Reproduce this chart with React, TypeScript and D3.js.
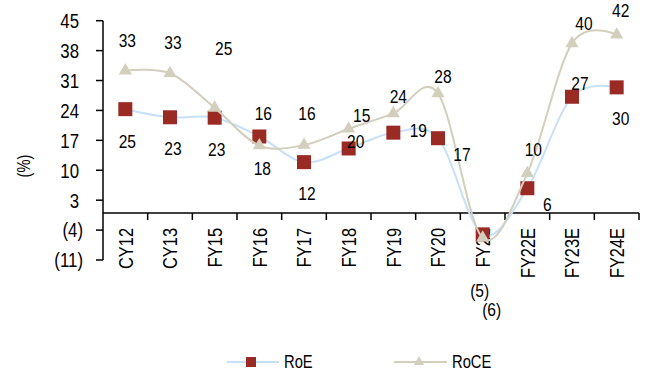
import React, { useRef, useEffect } from "react";
import * as d3 from "d3";

const categories = ["CY12", "CY13", "FY15", "FY16", "FY17", "FY18", "FY19", "FY20", "FY21", "FY22E", "FY23E", "FY24E"];
const roeValues = [24.3, 22.4, 22.3, 17.9, 11.9, 15.1, 18.8, 17.5, -5.0, 5.8, 27.2, 29.4];
const roceValues = [33.3, 32.7, 24.6, 15.8, 15.9, 19.7, 23.3, 28.0, -5.8, 9.3, 39.7, 41.7];
const roeLabels = ["25", "23", "23", "18", "12", "20", "19", "17", "(5)", "6", "27", "30"];
const roceLabels = ["33", "33", "25", "16", "16", "15", "24", "28", "(6)", "10", "40", "42"];
const yTicks = [-11, -4, 3, 10, 17, 24, 31, 38, 45];

// hand placed data labels (dx, dy from the marker), as in the source chart
const roeLabelShift = [[2, 32], [3, 31], [2, 31], [3, 32], [3, 31], [7, -7], [25, -3], [24, 16], [-3, 56], [20, 16], [8, -14], [4, 31]];
const roceLabelShift = [[2, -31], [3, -31], [9, -60], [4, -32], [3, -32], [13, -14], [5, -17], [5, -17], [9, 71], [6, -24], [12, -20], [4, -25]];

const FONT = "'Liberation Sans', Arial, sans-serif";
const NARROW = 0.82; // squeeze Liberation Sans to look like Arial Narrow
const RED = "#992b24";
const BLUE = "#c6e0f7";
const BEIGE = "#d3cfbd";

const fmt = (v: number) => (v < 0 ? `(${Math.abs(v)})` : `${v}`);

const App = () => {
  const svgRef = useRef<SVGSVGElement>(null);

  useEffect(() => {
    const svg = d3.select(svgRef.current);
    svg.selectAll("*").remove();

    const width = 648;
    const height = 376;
    const margin = { top: 20.7, right: 9, bottom: 116, left: 103 };

    const x = d3.scaleBand().domain(categories).range([margin.left, width - margin.right]);
    const y = d3.scaleLinear().domain([-11, 45]).range([height - margin.bottom, margin.top]);
    const cx = (i: number) => (x(categories[i]) as number) + x.bandwidth() / 2;

    const root = svg.append("g").attr("font-family", FONT).attr("fill", "#000");

    const narrowText = (parent: any, px: number, py: number, str: string, size: number, anchor = "middle", rotate = 0) => {
      parent
        .append("text")
        .attr("transform", `translate(${px},${py}) rotate(${rotate}) scale(${NARROW},1)`)
        .attr("text-anchor", anchor)
        .attr("dy", "0.36em")
        .attr("font-size", size)
        .text(str);
    };

    // y axis
    const yAxis = root.append("g");
    yAxis
      .append("line")
      .attr("x1", margin.left)
      .attr("x2", margin.left)
      .attr("y1", y(45))
      .attr("y2", y(-11))
      .attr("stroke", "#000")
      .attr("stroke-width", 1.5);
    yTicks.forEach((t) => {
      yAxis
        .append("line")
        .attr("x1", margin.left - 7)
        .attr("x2", margin.left)
        .attr("y1", y(t))
        .attr("y2", y(t))
        .attr("stroke", "#000")
        .attr("stroke-width", 1.5);
      narrowText(yAxis, t < 0 ? 83 : 79, y(t), fmt(t), 20.5, "end");
    });

    narrowText(root, 24, 166, "(%)", 18, "middle", -90);

    // x axis at zero
    const xAxis = root.append("g");
    xAxis
      .append("line")
      .attr("x1", margin.left)
      .attr("x2", width - margin.right)
      .attr("y1", y(0))
      .attr("y2", y(0))
      .attr("stroke", "#000")
      .attr("stroke-width", 1.5);
    const edges = categories.map((c) => x(c) as number).slice(1).concat([width - margin.right]);
    edges.forEach((e) => {
      xAxis
        .append("line")
        .attr("x1", e)
        .attr("x2", e)
        .attr("y1", y(0))
        .attr("y2", y(0) + 7)
        .attr("stroke", "#000")
        .attr("stroke-width", 1.5);
    });
    categories.forEach((c, i) => narrowText(xAxis, cx(i), y(0) + 15, c, 20, "end", -90));

    const line = d3
      .line<number>()
      .x((d, i) => cx(i))
      .y((d) => y(d))
      .curve(d3.curveCardinal.tension(0));

    // RoE series
    root
      .append("path")
      .attr("d", line(roeValues))
      .attr("fill", "none")
      .attr("stroke", BLUE)
      .attr("stroke-width", 2);
    root
      .append("g")
      .selectAll("rect")
      .data(roeValues)
      .join("rect")
      .attr("x", (d, i) => cx(i) - 7)
      .attr("y", (d) => y(d) - 7)
      .attr("width", 14)
      .attr("height", 14)
      .attr("fill", RED);

    // RoCE series
    const tri = d3.symbol().type(d3.symbolTriangle).size(75);
    root
      .append("path")
      .attr("d", line(roceValues))
      .attr("fill", "none")
      .attr("stroke", BEIGE)
      .attr("stroke-width", 2);
    root
      .append("g")
      .selectAll("path")
      .data(roceValues)
      .join("path")
      .attr("d", tri)
      .attr("transform", (d, i) => `translate(${cx(i)},${y(d)})`)
      .attr("fill", BEIGE);

    // data labels
    const labels = root.append("g");
    roeValues.forEach((v, i) => {
      narrowText(labels, cx(i) + roeLabelShift[i][0], y(v) + roeLabelShift[i][1], roeLabels[i], 19);
    });
    roceValues.forEach((v, i) => {
      narrowText(labels, cx(i) + roceLabelShift[i][0], y(v) + roceLabelShift[i][1], roceLabels[i], 19);
    });

    // legend
    const legend = root.append("g");
    const ly = 362;
    legend.append("line").attr("x1", 227).attr("x2", 279).attr("y1", ly).attr("y2", ly).attr("stroke", BLUE).attr("stroke-width", 2);
    legend.append("rect").attr("x", 246).attr("y", ly - 5).attr("width", 10).attr("height", 10).attr("fill", RED);
    narrowText(legend, 284, ly, "RoE", 18, "start");
    legend.append("line").attr("x1", 394).attr("x2", 447).attr("y1", ly).attr("y2", ly).attr("stroke", BEIGE).attr("stroke-width", 2);
    legend
      .append("path")
      .attr("d", d3.symbol().type(d3.symbolTriangle).size(45)())
      .attr("transform", `translate(419,${ly})`)
      .attr("fill", BEIGE);
    narrowText(legend, 452, ly, "RoCE", 18, "start");
  }, []);

  return (
    <div style={{ position: "absolute", left: 0, top: 0 }}>
      <svg ref={svgRef} width={648} height={376}></svg>
    </div>
  );
};

export default App;
